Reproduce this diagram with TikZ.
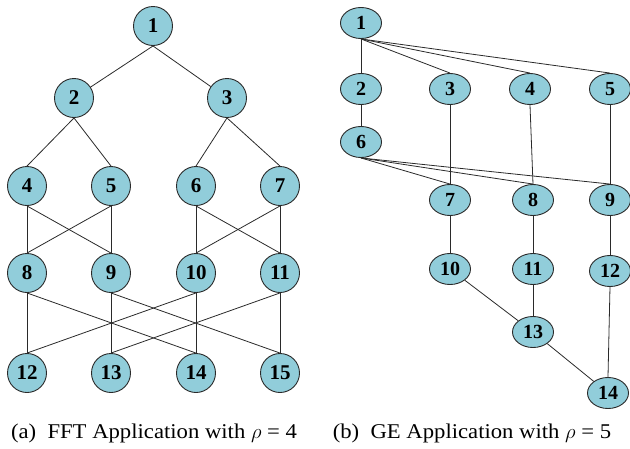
\documentclass[tikz,border=0pt]{standalone}
\usepackage{fontspec}
\setmainfont{Liberation Serif}
\newfontfamily\captfont[FakeStretch=1.08]{Liberation Serif}
\usetikzlibrary{shapes.geometric}
\definecolor{nodefill}{HTML}{91CDDA}
\definecolor{edgecol}{HTML}{2A2A2A}
\tikzset{
  fftnode/.style={circle, draw=edgecol, line width=0.9pt, fill=nodefill,
    minimum size=39pt, inner sep=0pt, font=\fontsize{21}{21}\selectfont\bfseries},
  genode/.style={ellipse, draw=edgecol, line width=0.9pt, fill=nodefill,
    minimum width=41pt, minimum height=31pt, inner sep=0pt,
    font=\fontsize{20}{20}\selectfont\bfseries},
  edge/.style={draw=edgecol, line width=0.8pt},
  capt/.style={font=\captfont\fontsize{21}{21}\selectfont, inner sep=0pt}
}
\begin{document}
\begin{tikzpicture}[x=1pt, y=-1pt]
\useasboundingbox (0,0) rectangle (630,448);

% FFT task graph
\node[fftnode] (f1) at (153,26) {1};
\node[fftnode] (f2) at (74,98) {2};
\node[fftnode] (f3) at (227,98) {3};
\node[fftnode] (f4) at (27,186) {4};
\node[fftnode] (f5) at (111,186) {5};
\node[fftnode] (f6) at (196,186) {6};
\node[fftnode] (f7) at (280,186) {7};
\node[fftnode] (f8) at (27,273) {8};
\node[fftnode] (f9) at (111,273) {9};
\node[fftnode] (f10) at (196,273) {10};
\node[fftnode] (f11) at (280,273) {11};
\node[fftnode] (f12) at (27,373) {12};
\node[fftnode] (f13) at (111,373) {13};
\node[fftnode] (f14) at (196,373) {14};
\node[fftnode] (f15) at (280,373) {15};

\draw[edge] (f1.south) -- (f2);
\draw[edge] (f1.south) -- (f3);
\foreach \a/\b in {f2/f4,f2/f5,f3/f6,f3/f7,
                   f4/f8,f4/f9,f5/f8,f5/f9,f6/f10,f6/f11,f7/f10,f7/f11,
                   f8/f12,f8/f14,f9/f13,f9/f15,f10/f12,f10/f14,f11/f13,f11/f15}
  \draw[edge] (\a.south) -- (\b.north);

% GE task graph
\node[genode] (g1) at (361,23) {1};
\node[genode] (g2) at (361,89) {2};
\node[genode] (g3) at (450,89) {3};
\node[genode] (g4) at (530,89) {4};
\node[genode] (g5) at (610,89) {5};
\node[genode] (g6) at (361,142) {6};
\node[genode] (g7) at (450,200) {7};
\node[genode] (g8) at (533,200) {8};
\node[genode] (g9) at (610,200) {9};
\node[genode] (g10) at (450,269) {10};
\node[genode] (g11) at (533,269) {11};
\node[genode] (g12) at (610,271) {12};
\node[genode] (g13) at (533,332) {13};
\node[genode] (g14) at (608,393) {14};

\foreach \a/\b in {g1/g2,g1/g3,g1/g4,g1/g5,g2/g6,g6/g7,g6/g8,g6/g9,
                   g3/g7,g4/g8,g5/g9,g7/g10,g8/g11,g9/g12,g11/g13,g12/g14}
  \draw[edge] (\a.south) -- (\b.north);
\draw[edge] (g10) -- (g13);
\draw[edge] (g13) -- (g14);

% captions
\node[capt] (ca) at (154,433) {(a)\ \ FFT Application with $\rho$ = 4};
\node[capt] (cb) at (472,433) {(b)\ \ GE Application with $\rho$ = 5};
\end{tikzpicture}
\end{document}
